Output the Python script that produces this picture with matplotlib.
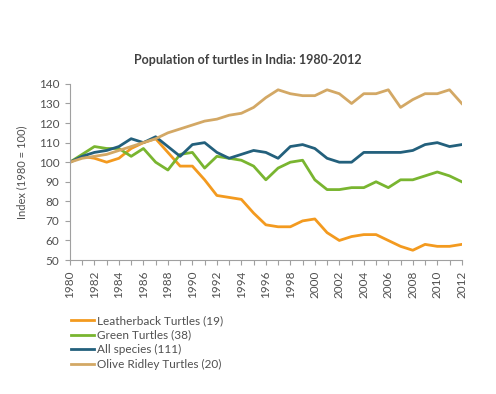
import matplotlib.pyplot as plt
import numpy as np

plt.rcParams['font.family'] = ['Lato', 'DejaVu Sans']

years = list(range(1980, 2013))

leatherback = [100, 103, 102, 100, 102, 107, 110, 112, 105, 98, 98, 91, 83, 82, 81, 74,
               68, 67, 67, 70, 71, 64, 60, 62, 63, 63, 60, 57, 55, 58, 57, 57, 58]
green = [100, 104, 108, 107, 107, 103, 107, 100, 96, 104, 105, 97, 103, 102, 101, 98,
         91, 97, 100, 101, 91, 86, 86, 87, 87, 90, 87, 91, 91, 93, 95, 93, 90]
all_species = [100, 103, 105, 106, 108, 112, 110, 113, 108, 103, 109, 110, 105, 102, 104, 106,
               105, 102, 108, 109, 107, 102, 100, 100, 105, 105, 105, 105, 106, 109, 110, 108, 109]
olive_ridley = [100, 102, 103, 104, 106, 108, 110, 112, 115, 117, 119, 121, 122, 124, 125, 128,
                133, 137, 135, 134, 134, 137, 135, 130, 135, 135, 137, 128, 132, 135, 135, 137, 130]

series = [
    ("Leatherback Turtles (19)", leatherback, "#F39A1F"),
    ("Green Turtles (38)", green, "#79B530"),
    ("All species (111)", all_species, "#23607C"),
    ("Olive Ridley Turtles (20)", olive_ridley, "#D3A865"),
]

fig = plt.figure(figsize=(4.96, 3.94), dpi=100)
ax = fig.add_axes([0.141, 0.340, 0.790, 0.447])

lines = []
for label, vals, color in series:
    ln, = ax.plot(years, vals, color=color, lw=2.0, label=label, solid_joinstyle='round')
    lines.append(ln)

ax.set_xlim(1980, 2012)
ax.set_ylim(50, 140)
ax.set_yticks(np.arange(50, 141, 10))
ax.set_xticks(years[::2])
ax.set_xticks(years, minor=True)
ax.set_xticklabels([str(y) for y in years[::2]], rotation=90)

for s in ['top', 'right']:
    ax.spines[s].set_visible(False)
for s in ['left', 'bottom']:
    ax.spines[s].set_color('#a0a0a0')
    ax.spines[s].set_linewidth(0.8)
ax.tick_params(axis='both', which='both', color='#a0a0a0', length=3.5, width=0.8,
               labelsize=8.5, labelcolor='#505050', pad=4)

ax.set_ylabel("Index (1980 = 100)", fontsize=8, color='#505050', labelpad=8)
fig.text(0.5, 0.848, "Population of turtles in India: 1980-2012", ha='center', va='center',
         fontsize=9, fontweight='bold', color='#404040')

leg = fig.legend(handles=lines, loc='upper left', bbox_to_anchor=(0.133, 0.212),
                 frameon=False, fontsize=8.5, handlelength=2.0, handletextpad=0.2,
                 labelspacing=0.3, borderaxespad=0)
for t in leg.get_texts():
    t.set_color('#505050')

fig.savefig("out.png", dpi=100)
